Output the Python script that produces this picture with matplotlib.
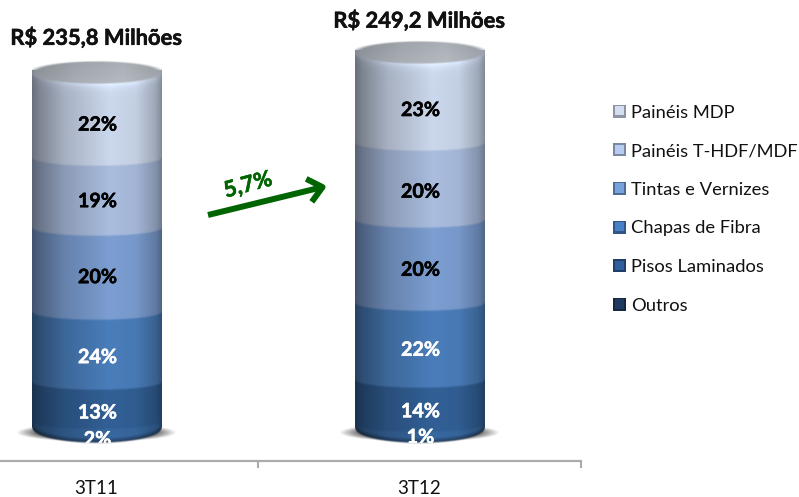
import numpy as np
import matplotlib
matplotlib.use("Agg")
import matplotlib.pyplot as plt
import matplotlib.patheffects as pe
from matplotlib.patches import Rectangle
from matplotlib.legend_handler import HandlerBase

plt.rcParams['font.family'] = ['Lato', 'DejaVu Sans']

# ---- data ----
periods = ['3T11', '3T12']
totals_titles = ['R$ 235,8 Milhões', 'R$ 249,2 Milhões']
series = ['Painéis MDP', 'Painéis T-HDF/MDF', 'Tintas e Vernizes',
          'Chapas de Fibra', 'Pisos Laminados', 'Outros']
# segment heights (R$ mn), top segment first
seg_3t11 = [56.5, 46.5, 55.8, 46.5, 25.8, 4.7]
seg_3t12 = [59.9, 51.3, 55.1, 51.2, 29.2, 2.5]
labels_3t11 = ['22%', '19%', '20%', '24%', '13%', '2%']
labels_3t12 = ['23%', '20%', '20%', '22%', '14%', '1%']
growth_label = '5,7%'

# ---- style ----
W, H = 799, 497
seg_colors = [(203, 215, 236), (170, 189, 222), (124, 158, 210),
              (74, 126, 187), (50, 96, 150), (56, 104, 160)]
legend_colors = [(196, 206, 224), (170, 189, 222), (110, 150, 205),
                 (66, 120, 185), (44, 88, 145), (28, 54, 90)]
label_colors = ['black', 'black', 'black', 'white', 'white', 'white']
label_dy_px = [[9, 8, 7, 10, 11, 15], [12, 10, 8, 8, 9, 11]]
title_offset_pt = [17.5, 15.3]
prof_x = [-1, -0.88, -0.5, 0.2, 0.6, 0.9, 1]
prof_m = [0.52, 0.62, 0.82, 1.0, 0.96, 0.78, 0.64]
half_w = 0.2
px_per_unit = 1.505
depth_base, depth_mid, depth_top, face_h = [v / px_per_unit for v in (15, 8, 12, 11)]
soft = 2.0 / px_per_unit

fig = plt.figure(figsize=(W / 100, H / 100), dpi=100)
ax = fig.add_axes([0, (H - 461) / H, 581 / W, 461 / H])
for s in ['top', 'left', 'right']:
    ax.spines[s].set_visible(False)
ax.spines['bottom'].set_color('#ababab')
ax.spines['bottom'].set_linewidth(1.6)
ax.set_yticks([])
ax.set_xticks([0, 1], periods, fontsize=13.5, color='#111111')
ax.tick_params(axis='x', which='major', length=0, pad=14)
ax.set_xticks([0.5, 1.5], minor=True)
ax.tick_params(axis='x', which='minor', length=5, width=1.2, color='#9a9a9a')
x0 = -96.5 / 323
xlim = (x0, x0 + 581 / 323)
ylim = (-33 / px_per_unit, 428 / px_per_unit)


def segment_image(c, rgb, bottom, top, d0, d1, is_base, is_top):
    """RGBA image of a cylinder band whose lower edge follows a soft front arc."""
    y_lo = bottom - d0 - soft
    y_hi = top + soft
    m = max(8, int((y_hi - y_lo) * px_per_unit * 2))
    xs = np.linspace(-1, 1, 260)
    ys = np.linspace(y_lo, y_hi, m)
    X, Y = np.meshgrid(xs, ys)
    circ = np.sqrt(np.clip(1 - X ** 2, 0, 1))
    edge = bottom - d0 * circ
    alpha = np.clip((Y - edge + soft / 2) / soft, 0, 1)
    mult = np.interp(X, prof_x, prof_m)
    if is_base:
        dist = (Y - edge) * px_per_unit
        mult = mult * (0.55 + 0.45 * np.clip(dist / 5.0, 0, 1))
    if is_top:
        dist = (top - d1 * circ - Y) * px_per_unit
        mult = mult * (1 + 0.14 * np.exp(-np.clip(dist, 0, None) / 4.0))
    img = np.zeros((m, 260, 4))
    for k in range(3):
        img[..., k] = np.clip(mult * rgb[k] / 255.0, 0, 1)
    img[..., 3] = alpha
    return img, (c - half_w, c + half_w, y_lo, y_hi)


def top_face_image(c, level):
    xs = np.linspace(-1, 1, 260)
    ys = np.linspace(-1.2, 1.2, 60)
    X, Y = np.meshgrid(xs, ys)
    r = np.sqrt(X ** 2 + Y ** 2)
    alpha = np.clip((1.0 - r) / 0.14 + 0.5, 0, 1)
    base = np.interp(X, [-1, -0.3, 0.4, 1], [140, 164, 176, 156]) + 6 * (-Y)
    img = np.zeros((60, 260, 4))
    img[..., 0] = base / 255.0
    img[..., 1] = (base + 5) / 255.0
    img[..., 2] = (base + 12) / 255.0
    img[..., 3] = alpha
    return np.clip(img, 0, 1), (c - half_w, c + half_w, level - 1.2 * face_h, level + 1.2 * face_h)


def cylinder(c, segs, labels, dys, title, title_off):
    # shadow
    n = 200
    xx, yy = np.meshgrid(np.linspace(-1, 1, n), np.linspace(-1, 1, 60))
    r = np.hypot(xx, yy)
    sh = np.zeros((60, n, 4))
    sh[..., :3] = 0.25
    sh[..., 3] = np.clip((1 - r) / 0.33, 0, 1)
    a = half_w * 80 / 64.5
    ax.imshow(sh, extent=(c - a, c + a, -9.0, 3.0), aspect='auto', zorder=1)

    vals = np.array(segs)
    tops = np.cumsum(vals[::-1])[::-1]
    bottoms = tops - vals
    n_seg = len(vals)
    for i in range(n_seg - 1, -1, -1):
        d0 = depth_base if i == n_seg - 1 else depth_mid
        d1 = depth_top if i == 0 else depth_mid
        img, ext = segment_image(c, seg_colors[i], bottoms[i], tops[i], d0, d1,
                                 i == n_seg - 1, i == 0)
        ax.imshow(img, aspect='auto', extent=ext, origin='lower',
                  zorder=2 + (n_seg - i) * 0.01, interpolation='bilinear')
    img, ext = top_face_image(c, tops[0])
    ax.imshow(img, aspect='auto', extent=ext, origin='lower', zorder=2.6, interpolation='bilinear')

    clip_im = Rectangle((c - half_w, -depth_base), 2 * half_w, tops[0] + depth_base,
                        transform=ax.transData, fc='none', ec='none')
    ax.add_patch(clip_im)
    for i in range(n_seg):
        t = ax.annotate(labels[i], (c, (tops[i] + bottoms[i]) / 2),
                        xytext=(0.7, -dys[i] * 0.72), textcoords='offset points',
                        ha='center', va='center', fontsize=14.2, fontweight='bold',
                        color=label_colors[i], zorder=4)
        t.set_clip_path(clip_im)
        t.set_path_effects([pe.withStroke(linewidth=0.4, foreground=label_colors[i])])
    tt = ax.annotate(title, (c, tops[0]), xytext=(0, title_off), textcoords='offset points',
                     ha='center', va='bottom', fontsize=15.8, fontweight='bold', color='#111111',
                     annotation_clip=False)
    tt.set_path_effects([pe.withStroke(linewidth=0.4, foreground='#111111')])


cylinder(0, seg_3t11, labels_3t11, label_dy_px[0], totals_titles[0], title_offset_pt[0])
cylinder(1, seg_3t12, labels_3t12, label_dy_px[1], totals_titles[1], title_offset_pt[1])
ax.set_ylim(*ylim)
ax.set_xlim(*xlim)


def fp(x, y):
    return (x / W, 1 - y / H)


ax.annotate('', xy=fp(327, 186), xytext=fp(208, 215), xycoords='figure fraction',
            textcoords='figure fraction',
            arrowprops=dict(arrowstyle='->,head_length=1.0,head_width=0.85', color='#006400',
                            lw=4.3, shrinkA=0, shrinkB=0, joinstyle='round', capstyle='butt'))
gt = fig.text(*fp(248, 185), growth_label, color='#006400', fontsize=16, fontweight='bold',
              rotation=15, ha='center', va='center')
gt.set_path_effects([pe.withStroke(linewidth=0.4, foreground='#006400')])


class GradHandler(HandlerBase):
    def create_artists(self, legend, orig, xd, yd, width, height, fontsize, trans):
        c = np.array(orig.get_facecolor()[:3])
        h = 13 * 0.72
        y = yd + (height - h) / 2
        outer = Rectangle((xd, y), h, h, fc=c * 0.72, ec='none', transform=trans)
        inner = Rectangle((xd + 1.6, y + 1.6), h - 2.6, h - 2.6, fc=np.clip(c * 1.08, 0, 1),
                          ec='none', transform=trans)
        return [outer, inner]


handles = [Rectangle((0, 0), 1, 1, fc=np.array(c) / 255.0) for c in legend_colors]
leg = fig.legend(handles, series, handler_map={Rectangle: GradHandler()},
                 loc='upper left', bbox_to_anchor=fp(611 - 4, 99), frameon=False,
                 fontsize=13.2, labelspacing=1.235, handlelength=1.0, handletextpad=0.0,
                 borderpad=0.3, borderaxespad=0)
for t in leg.get_texts():
    t.set_color('#111111')

fig.savefig('out.png', dpi=100)
